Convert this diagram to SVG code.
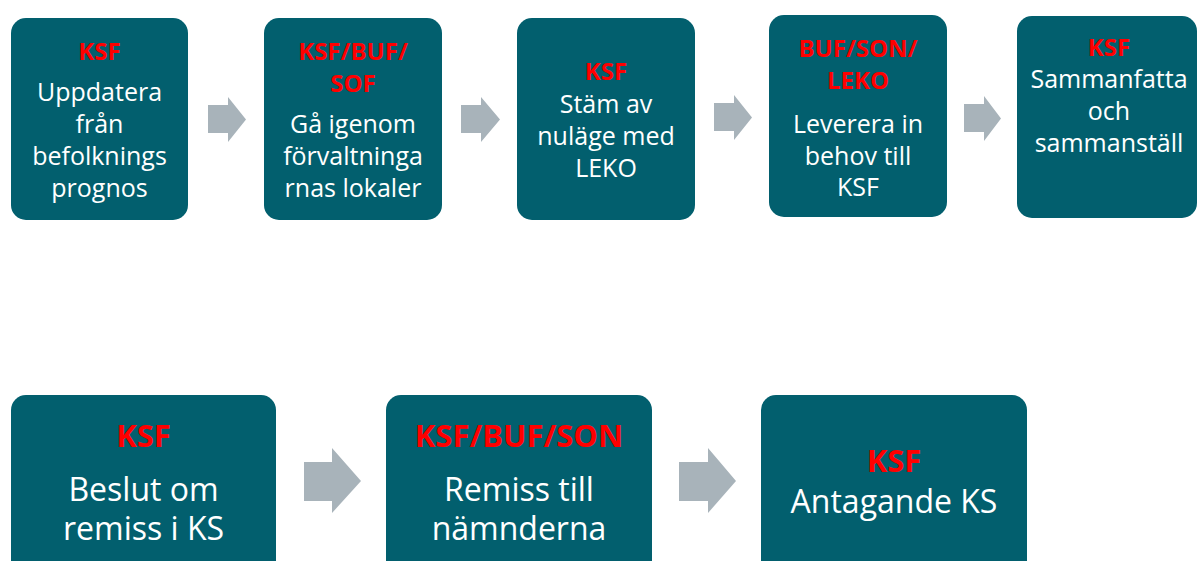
<svg xmlns="http://www.w3.org/2000/svg" width="1197" height="561" viewBox="0 0 1197 561">
<style>
.box{fill:#025F6E}
.arr{fill:#A8B3BA}
text{font-family:"Open Sans","Noto Sans","Liberation Sans",sans-serif;text-anchor:middle}
.t{fill:#FF0000;font-weight:bold;font-size:24px}
.b{fill:#FFFFFF;font-size:25px}
.T{fill:#FF0000;font-weight:bold;font-size:31px}
.B{fill:#FFFFFF;font-size:32px}
</style>
<rect width="1197" height="561" fill="#FFFFFF"/>
<g id="connectors">
<path class="arr" d="M208,105 H228 V97 L246,119.5 L228,142 V133 H208 Z"/>
<path class="arr" d="M461,105 H481 V97 L500,119.5 L481,142 V133 H461 Z"/>
<path class="arr" d="M714,103 H734 V95 L752,117.5 L734,140 V131 H714 Z"/>
<path class="arr" d="M964,104 H984 V96 L1001,118.5 L984,141 V132 H964 Z"/>
<path class="arr" d="M304,462 H332 V448 L361,481 L332,513 V501 H304 Z"/>
<path class="arr" d="M679,462 H708 V448 L736,481 L708,513 V501 H679 Z"/>
</g>
<g id="n1">
<rect class="box" x="11" y="18" width="177" height="202" rx="15"/>
<text class="t" x="99.5" y="60">KSF</text>
<text class="b" x="99.5" y="101">Uppdatera</text>
<text class="b" x="99.5" y="133">från</text>
<text class="b" x="99.5" y="165">befolknings</text>
<text class="b" x="99.5" y="197">prognos</text>
</g>
<g id="n2">
<rect class="box" x="264" y="18" width="178" height="202" rx="15"/>
<text class="t" x="353" y="60">KSF/BUF/</text>
<text class="t" x="353" y="92">SOF</text>
<text class="b" x="353" y="133">Gå igenom</text>
<text class="b" x="353" y="165">förvaltninga</text>
<text class="b" x="353" y="197">rnas lokaler</text>
</g>
<g id="n3">
<rect class="box" x="517" y="18" width="178" height="202" rx="15"/>
<text class="t" x="606" y="80">KSF</text>
<text class="b" x="606" y="113">Stäm av</text>
<text class="b" x="606" y="145">nuläge med</text>
<text class="b" x="606" y="177">LEKO</text>
</g>
<g id="n4">
<rect class="box" x="769" y="15" width="178" height="202" rx="15"/>
<text class="t" x="858" y="57">BUF/SON/</text>
<text class="t" x="858" y="89">LEKO</text>
<text class="b" x="858" y="133">Leverera in</text>
<text class="b" x="858" y="165">behov till</text>
<text class="b" x="858" y="196">KSF</text>
</g>
<g id="n5">
<rect class="box" x="1017" y="16" width="180" height="202" rx="15"/>
<text class="t" x="1109" y="56">KSF</text>
<text class="b" x="1109" y="88">Sammanfatta</text>
<text class="b" x="1109" y="120">och</text>
<text class="b" x="1109" y="152">sammanställ</text>
</g>
<g id="n6">
<rect class="box" x="11" y="395" width="265" height="185" rx="15"/>
<text class="T" x="143.5" y="447">KSF</text>
<text class="B" x="143.5" y="501">Beslut om</text>
<text class="B" x="143.5" y="540">remiss i KS</text>
</g>
<g id="n7">
<rect class="box" x="386" y="395" width="266" height="185" rx="15"/>
<text class="T" x="519" y="447">KSF/BUF/SON</text>
<text class="B" x="519" y="501">Remiss till</text>
<text class="B" x="519" y="540">nämnderna</text>
</g>
<g id="n8">
<rect class="box" x="761" y="395" width="266" height="185" rx="15"/>
<text class="T" x="894" y="472">KSF</text>
<text class="B" x="894" y="513">Antagande KS</text>
</g>
</svg>
